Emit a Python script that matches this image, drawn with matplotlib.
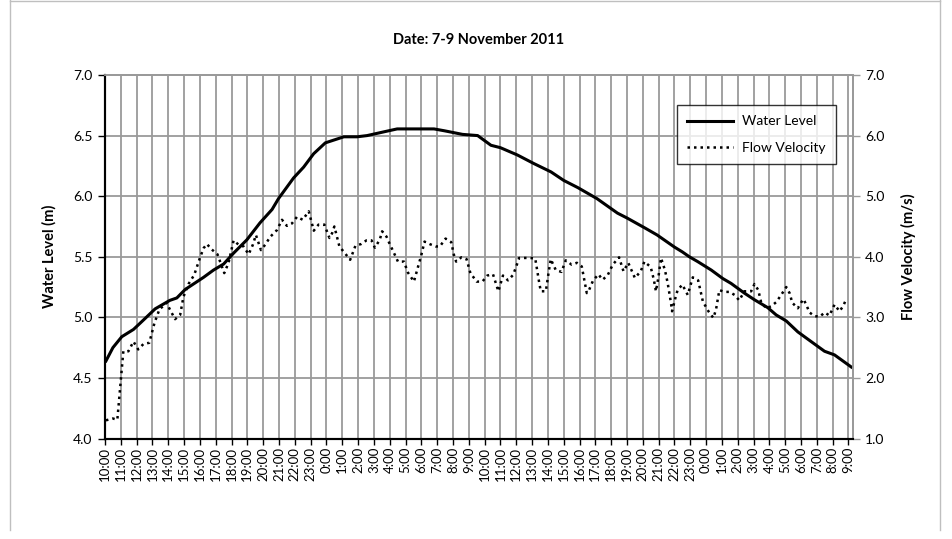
import matplotlib
matplotlib.use("Agg")
import matplotlib.pyplot as plt
from matplotlib.lines import Line2D
from matplotlib.ticker import FixedLocator, FormatStrFormatter

plt.rcParams['font.family'] = ['Lato', 'DejaVu Sans']

# ---- data (hours since 10:00 on 7 Nov) ----
level_hours = [0.06, 0.5, 1.06, 1.8, 2.53, 3.17, 4.1, 4.54, 5.07, 6.23, 6.86, 7.5, 8.13, 8.97,
               9.8, 10.56, 10.97, 11.92, 12.56, 13.19, 13.93, 15.1, 15.94, 16.57, 17.6, 18.47,
               20.8, 21.44, 22.6, 23.56, 24.4, 25.0, 26.07, 27.1, 28.2, 29.0, 29.9, 31.1, 32.4,
               33.0, 34.1, 34.9, 36.0, 36.5, 36.94, 37.47, 38.33, 39.06, 39.58, 40.42, 41.06,
               41.9, 42.43, 43.07, 43.8, 44.22, 45.17, 45.49, 46.12, 46.65, 47.18]
level_values = [4.64, 4.75, 4.84, 4.90, 4.99, 5.07, 5.14, 5.16, 5.23, 5.33, 5.39, 5.44, 5.53, 5.64,
                5.78, 5.89, 5.98, 6.15, 6.24, 6.35, 6.44, 6.49, 6.49, 6.50, 6.53, 6.555,
                6.555, 6.54, 6.51, 6.50, 6.42, 6.40, 6.34, 6.27, 6.20, 6.13, 6.07, 5.98, 5.86,
                5.82, 5.74, 5.68, 5.58, 5.54, 5.50, 5.46, 5.39, 5.32, 5.28, 5.20, 5.145,
                5.08, 5.02, 4.97, 4.88, 4.84, 4.75, 4.72, 4.69, 4.64, 4.59]

velocity_hours = [0.06, 0.49, 0.78, 1.16, 1.48, 1.8, 2.1, 2.43, 2.8, 3.13, 3.44, 3.9, 4.1, 4.43,
                  4.75, 4.96, 5.28, 5.64, 6.0, 6.23, 6.44, 6.75, 7.11, 7.54, 7.81, 8.13, 8.44,
                  8.76, 9.08, 9.35, 9.54, 9.86, 10.13, 10.45, 10.87, 11.19, 11.5, 11.82, 12.14,
                  12.5, 12.88, 13.2, 13.5, 13.87, 14.19, 14.36, 14.5, 14.82, 15.16, 15.5, 15.83,
                  16.19, 16.53, 16.85, 17.06, 17.37, 17.52, 17.8, 18.0, 18.22, 18.52, 18.9, 19.15,
                  19.53, 19.8, 20.0, 20.2, 20.52, 20.9, 21.17, 21.53, 21.89, 22.06, 22.2, 22.53,
                  22.86, 23.1, 23.5, 23.86, 24.17, 24.53, 24.7, 24.87, 25.16, 25.48, 25.8, 26.0,
                  26.18, 26.56, 26.9, 27.2, 27.44, 27.55, 27.87, 28.04, 28.18, 28.5, 28.86, 29.13,
                  29.5, 29.83, 30.14, 30.46, 30.6, 30.86, 31.2, 31.45, 31.77, 32.1, 32.5, 32.78,
                  33.08, 33.35, 33.5, 33.87, 34.1, 34.5, 34.7, 34.83, 34.98, 35.15, 35.4, 35.57,
                  35.78, 35.85, 36.04, 36.2, 36.5, 36.84, 37.16, 37.5, 37.8, 38.15, 38.46, 38.63,
                  38.84, 39.16, 39.48, 39.8, 40.1, 40.42, 40.85, 41.06, 41.3, 41.48, 41.8, 42.1,
                  42.43, 42.75, 43.07, 43.28, 43.45, 43.8, 44.0, 44.16, 44.33, 44.54, 44.86,
                  45.18, 45.5, 45.8, 46.12, 46.44, 46.65, 46.85]
velocity_values = [1.30, 1.33, 1.31, 2.44, 2.44, 2.60, 2.47, 2.56, 2.58, 2.91, 3.13, 3.24, 3.13, 2.97,
                   3.04, 3.34, 3.55, 3.70, 3.98, 4.14, 4.21, 4.12, 4.04, 3.73, 3.90, 4.27, 4.20,
                   4.17, 4.04, 4.20, 4.36, 4.11, 4.20, 4.33, 4.44, 4.61, 4.51, 4.55, 4.66,
                   4.61, 4.75, 4.43, 4.53, 4.53, 4.31, 4.39, 4.50, 4.17, 4.06, 3.95, 4.18,
                   4.21, 4.27, 4.27, 4.15, 4.28, 4.42, 4.33, 4.21, 4.09, 3.92, 3.92, 3.74,
                   3.59, 3.84, 4.03, 4.25, 4.21, 4.17, 4.17, 4.30, 4.24, 4.03, 3.92, 3.99,
                   3.96, 3.73, 3.59, 3.59, 3.69, 3.71, 3.57, 3.43, 3.69, 3.61, 3.70, 3.84,
                   3.98, 3.98, 3.98, 3.97, 3.59, 3.43, 3.43, 3.73, 3.96, 3.78, 3.75, 3.94,
                   3.87, 3.90, 3.84, 3.40, 3.45, 3.61, 3.71, 3.62, 3.69, 3.87, 3.99, 3.76,
                   3.90, 3.74, 3.65, 3.76, 3.92, 3.83, 3.62, 3.43, 3.65, 3.98, 3.78, 3.57,
                   3.24, 3.10, 3.30, 3.45, 3.54, 3.37, 3.66, 3.61, 3.26, 3.10, 2.99, 3.13,
                   3.45, 3.42, 3.42, 3.37, 3.28, 3.43, 3.43, 3.55, 3.45, 3.25, 3.15, 3.18,
                   3.25, 3.37, 3.50, 3.40, 3.24, 3.15, 3.24, 3.30, 3.21, 3.08, 3.02,
                   3.01, 3.08, 3.03, 3.21, 3.10, 3.18, 3.29]

tick_hours = list(range(48))
tick_labels = ["%d:00" % ((10 + h) % 24) for h in tick_hours]

title = "Date: 7-9 November 2011"
left_label = "Water Level (m)"
right_label = "Flow Velocity (m/s)"

# ---- figure ----
W, H = 952, 539
fig = plt.figure(figsize=(W / 100, H / 100), dpi=100)

# chart area border
for xs, ys in [([10, 10], [0, 530]), ([10, 940], [1, 1]), ([940, 940], [0, 530])]:
    fig.add_artist(Line2D([x / W for x in xs], [1 - y / H for y in ys],
                          color='#bfbfbf', lw=1, transform=fig.transFigure))

L, R, T, B = 105, 852.7, 75, 438.5
ax = fig.add_axes([L / W, 1 - B / H, (R - L) / W, (B - T) / H])
ax2 = ax.twinx()

grid_c = '#9a9a9a'
ax.set_xlim(0, 47.27)
ax.set_ylim(4.0, 7.0)
ax2.set_ylim(1.0, 7.0)

ax.xaxis.set_major_locator(FixedLocator(tick_hours))
ax.set_xticklabels(tick_labels, rotation=90, fontsize=9.5)
ax.yaxis.set_major_locator(FixedLocator([4.0, 4.5, 5.0, 5.5, 6.0, 6.5, 7.0]))
ax.yaxis.set_major_formatter(FormatStrFormatter('%.1f'))
ax2.yaxis.set_major_locator(FixedLocator([1, 2, 3, 4, 5, 6, 7]))
ax2.yaxis.set_major_formatter(FormatStrFormatter('%.1f'))

ax.grid(True, which='major', color=grid_c, lw=1.3)
ax.set_axisbelow(True)
ax.tick_params(axis='x', direction='out', length=4, width=1, pad=2, colors='black')
ax.tick_params(axis='y', direction='out', length=5, width=1, labelsize=10, pad=4)
ax2.tick_params(axis='y', direction='out', length=5, width=1, labelsize=10, pad=4,
                color=grid_c, labelcolor='black')

for a in (ax, ax2):
    a.spines['top'].set_color(grid_c)
    a.spines['top'].set_linewidth(1.3)
    a.spines['right'].set_color(grid_c)
    a.spines['right'].set_linewidth(1.3)
    a.spines['left'].set_color('black')
    a.spines['left'].set_linewidth(1.5)
    a.spines['bottom'].set_color('black')
    a.spines['bottom'].set_linewidth(1.5)

l1, = ax.plot(level_hours, level_values, color='black', lw=2.2, solid_joinstyle='round',
              label='Water Level', zorder=4)
l2, = ax2.plot(velocity_hours, velocity_values, color='black', lw=1.8,
               linestyle=(0, (1, 1.6)), label='Flow Velocity', zorder=3)

ax.set_ylabel(left_label, fontsize=10.5, fontweight='bold', labelpad=12)
ax2.set_ylabel(right_label, fontsize=10.5, fontweight='bold', labelpad=12, rotation=90)

fig.text((L + R) / 2 / W, 1 - 40 / H, title, ha='center', va='center',
         fontsize=10.5, fontweight='bold')

leg = ax2.legend(handles=[l1, l2], loc='upper left',
                 bbox_to_anchor=((677 - L) / (R - L), 1 - (105 - T) / (B - T)),
                 frameon=True, fancybox=False, edgecolor='black', fontsize=10,
                 handlelength=3.3, borderpad=0.75, labelspacing=1.05, handletextpad=0.6,
                 borderaxespad=0)
leg.get_frame().set_linewidth(1.0)

fig.savefig("out.png", dpi=100)
